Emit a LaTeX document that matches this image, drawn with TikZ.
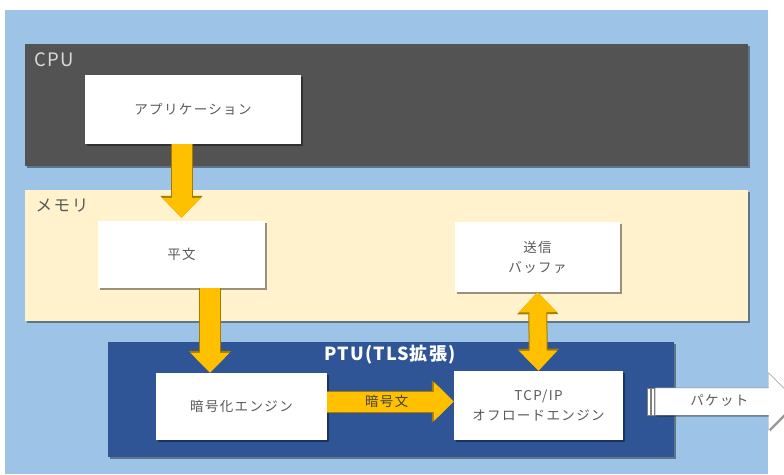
\documentclass[tikz,border=0pt]{standalone}
\usepackage{fontspec}
\setmainfont{Noto Sans CJK JP}
\newfontfamily\jpwide[LetterSpace=10]{Noto Sans CJK JP}
\newfontfamily\jptitle[LetterSpace=6]{Noto Sans CJK JP}
\usetikzlibrary{arrows.meta,shapes.arrows,shadows}

\definecolor{bgblue}{HTML}{9DC3E6}
\definecolor{cpugray}{HTML}{535353}
\definecolor{memcream}{HTML}{FFF2CC}
\definecolor{ptublue}{HTML}{2F5597}
\definecolor{gold}{HTML}{FFC000}
\definecolor{goldedge}{HTML}{A67C00}
\definecolor{boxtext}{HTML}{595959}
\definecolor{pktgray}{HTML}{7F7F7F}

\tikzset{
  softshadow/.style={drop shadow={shadow xshift=1.5pt,shadow yshift=-1.5pt,fill=black,opacity=.4}},
  region/.style={draw=none,softshadow,inner sep=0pt},
  unitbox/.style={draw=none,fill=white,softshadow,text=boxtext,align=center,
    font=\jpwide\fontsize{13.5}{20}\selectfont},
  fatarrow/.style={draw=gold,line width=20pt,-{Triangle[width=38pt,length=20pt]},
    preaction={draw=goldedge,line width=22pt,-{Triangle[width=41pt,length=22pt]}}},
  twinarrow/.style={draw=gold,line width=17pt,{Triangle[width=37pt,length=20pt]}-{Triangle[width=37pt,length=20pt]},
    preaction={draw=goldedge,line width=19pt,{Triangle[width=40pt,length=22pt]}-{Triangle[width=40pt,length=22pt]}}},
  pktarrow/.style={single arrow,draw=pktgray,fill=white,softshadow,
    single arrow head extend=15pt,minimum height=142pt,
    text height=10pt,text depth=3pt,inner ysep=7pt,text=boxtext,
    font=\jpwide\fontsize{13.5}{16}\selectfont}
}

\begin{document}
\begin{tikzpicture}[x=1pt,y=-1pt]
\clip (0,0) rectangle (784,474);
\fill[bgblue] (5,10) rectangle (768,474);

% regions
\node[region,fill=cpugray,minimum width=723pt,minimum height=122pt] (cpu) at (386.5,105) {};
\node[region,fill=memcream,minimum width=723pt,minimum height=131pt] (mem) at (386.5,255.5) {};
\node[region,fill=ptublue,minimum width=566pt,minimum height=115pt] (ptu) at (391,399.5) {};

\node[anchor=west,text=black!15,font=\jptitle\fontsize{18.5}{19}\selectfont] (cpulbl) at (31,60) {CPU};
\node[anchor=west,text=boxtext,font=\jpwide\fontsize{16.5}{17}\selectfont] (memlbl) at (32,206) {メモリ};
\node[text=white,font=\jptitle\bfseries\fontsize{18}{18}\selectfont] (ptulbl) at (390,355) {PTU(TLS拡張)};

% boxes
\node[unitbox,minimum width=216pt,minimum height=69pt] (app) at (193,109.5) {アプリケーション};
\node[unitbox,minimum width=167pt,minimum height=67pt] (plain) at (181.5,254.5) {平文};
\node[unitbox,minimum width=165pt,minimum height=70pt] (buf) at (537.5,257) {送信\\バッファ};
\node[unitbox,minimum width=171pt,minimum height=67pt] (enc) at (241.5,406.5) {暗号化エンジン};
\node[unitbox,minimum width=169pt,minimum height=69pt] (tcp) at (538.5,405.5) {TCP/IP\\オフロードエンジン};

% data flow
\draw[fatarrow,shorten >=3pt] (app.south -| plain.north) -- (plain.north);
\draw[fatarrow] ([xshift=28.5pt]plain.south) -- ([xshift=28.5pt]plain.south |- enc.north);
\draw[twinarrow] (buf.south) -- (tcp.north);
\draw[fatarrow] ([yshift=5pt]enc.east) -- ([yshift=5pt]enc.east -| tcp.west)
  node[pos=.47,text=black!75,font=\jpwide\fontsize{13.5}{16}\selectfont] {暗号文};

% packet out
\node[pktarrow,anchor=tail] (pkt) at (655,401.5) {パケット};
\draw[pktgray,fill=white] (647,388) rectangle (650,415);
\draw[pktgray,fill=white] (651.5,388) rectangle (654,415);
\end{tikzpicture}
\end{document}
